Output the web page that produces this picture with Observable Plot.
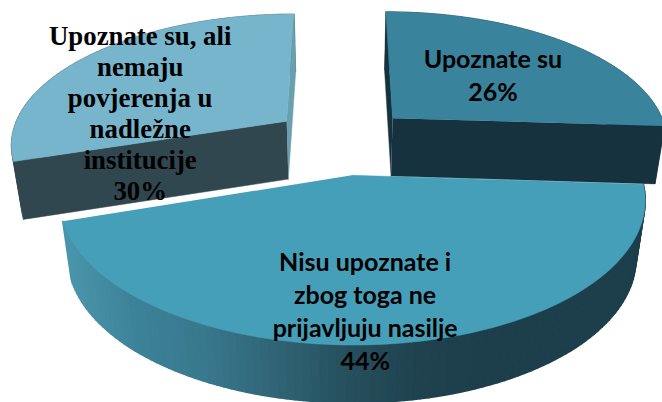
<!DOCTYPE html>
<html>
<head>
<meta charset="utf-8">
<script src="https://cdn.jsdelivr.net/npm/d3@7"></script>
<script src="https://cdn.jsdelivr.net/npm/@observablehq/plot@0.6"></script>
<style>html,body{margin:0;padding:0;background:#fff}svg{display:block}</style>
</head>
<body>
<script>
// Data
const categories = ["Upoznate su", "Nisu upoznate i\nzbog toga ne\nprijavljuju nasilje", "Upoznate su, ali\nnemaju\npovjerenja u\nnadležne\ninstitucije"];
const shares = [26, 44, 30];
// Styles and 3D layout
const topColors = ["#39839c", "#459fb8", "#76b5cb"];
const frontWall = ["#16323e", "#1c3f4b", "#31474f"];
const backWall = ["#16323e", "#1c3f4b", "#6a9fb0"];
const explosion = [0.255, 0.26, 0.255];
const labelAlong = [0.5, 0.53, 0.237];
const labelRadius = [0.556, 0.822, 0.555];
const perspective = 0.16, shrink = 0.97, wallDrop = 0.445;
const W = 662, H = 402, x0 = 342, B = 277, y0 = 139.8, A = 130;

// Perspective projection of a disc point
function project(X, Y, bottom) {
  const d = 1 + perspective * Y;
  return {x: (X / d) * (bottom ? shrink : 1), y: Y / d - (bottom ? wallDrop : 0)};
}
const total = d3.sum(shares);
let acc = 0;
const slices = shares.map((s, i) => {
  const a0 = acc / total * 2 * Math.PI;
  acc += s;
  const a1 = acc / total * 2 * Math.PI;
  const mid = (a0 + a1) / 2;
  return {i, a0, a1, tx: Math.sin(mid) * explosion[i], ty: Math.cos(mid) * explosion[i]};
});
const rim = (sl, a, bottom) => project(sl.tx + Math.sin(a), sl.ty + Math.cos(a), bottom);
const tip = (sl, bottom) => project(sl.tx, sl.ty, bottom);
function steps(sl, n) {
  return d3.range(n + 1).map(k => sl.a0 + (sl.a1 - sl.a0) * k / n);
}
function topPoly(sl) {
  return [tip(sl, false), ...steps(sl, 120).map(a => rim(sl, a, false))].map(p => ({...p, id: sl.i}));
}
function quad(id, p, q, v) {
  return [p[0], q[0], q[1], p[1]].map(c => ({...c, id, v}));
}
function walls(sl) {
  return {
    start: [rim(sl, sl.a0, false), rim(sl, sl.a0, true)],
    end: [rim(sl, sl.a1, false), rim(sl, sl.a1, true)],
    t: [tip(sl, false), tip(sl, true)]
  };
}
function arcQuads(sl, n) {
  const out = [];
  const as = steps(sl, n);
  for (let k = 0; k < n; k++) {
    const p = [rim(sl, as[k], false), rim(sl, as[k], true)];
    const q = [rim(sl, as[k + 1], false), rim(sl, as[k + 1], true)];
    out.push(...quad(sl.i + "-" + k, p, q, (p[0].x + q[0].x) / 2));
  }
  return out;
}
const poly = (pts, fill, sw = 0.5) => Plot.line(pts, {x: "x", y: "y", z: "id", fill, stroke: fill, strokeWidth: sw});

const [s1, s2, s3] = slices;
const w1 = walls(s1), w3 = walls(s3);
const label = sl => {
  const a = sl.a0 + (sl.a1 - sl.a0) * labelAlong[sl.i];
  const r = labelRadius[sl.i];
  const p = project(sl.tx + r * Math.sin(a), sl.ty + r * Math.cos(a), false);
  return [{...p, t: categories[sl.i] + "\n" + shares[sl.i] + "%"}];
};
const sansText = {x: "x", y: "y", text: "t", fill: "#000", fontFamily: "Lato", fontWeight: "bold", fontSize: 25, lineHeight: 1.32};

const chart = Plot.plot({
  width: W, height: H, margin: 0,
  x: {axis: null, domain: [-x0 / B, (W - x0) / B], range: [0, W]},
  y: {axis: null, domain: [(y0 - H) / A, y0 / A], range: [H, 0]},
  color: {type: "linear", interpolate: "rgb",
    domain: [-0.97, -0.756, -0.505, -0.147, 0, 0.283, 0.5, 1.1],
    range: ["#4893a9", "#3c8298", "#39788d", "#2c5d6d", "#27505e", "#1f424e", "#1c3f4b", "#1c3f4b"]},
  style: {background: "#fff"},
  marks: [
    // back slices
    poly(arcQuads(s3, 60), frontWall[2]),
    poly(quad("a", w3.t, w3.end, 0), backWall[2]),
    poly(quad("b", w3.t, w3.start, 0), frontWall[2]),
    poly(topPoly(s3), topColors[2]),
    poly(arcQuads(s1, 60), frontWall[0]),
    poly(quad("c", w1.t, w1.start, 0), backWall[0]),
    poly(quad("d", w1.t, w1.end, 0), frontWall[0]),
    poly(topPoly(s1), topColors[0]),
    // front slice
    poly(arcQuads(s2, 110), "v", 1.5),
    poly(topPoly(s2), topColors[1]),
    // labels
    Plot.text(label(s1), sansText),
    Plot.text(label(s2), sansText),
    Plot.text(label(s3), {...sansText, fontFamily: "Liberation Serif", fontSize: 26.8, lineHeight: 1.155})
  ]
});
document.body.appendChild(chart);
</script>
</body>
</html>
